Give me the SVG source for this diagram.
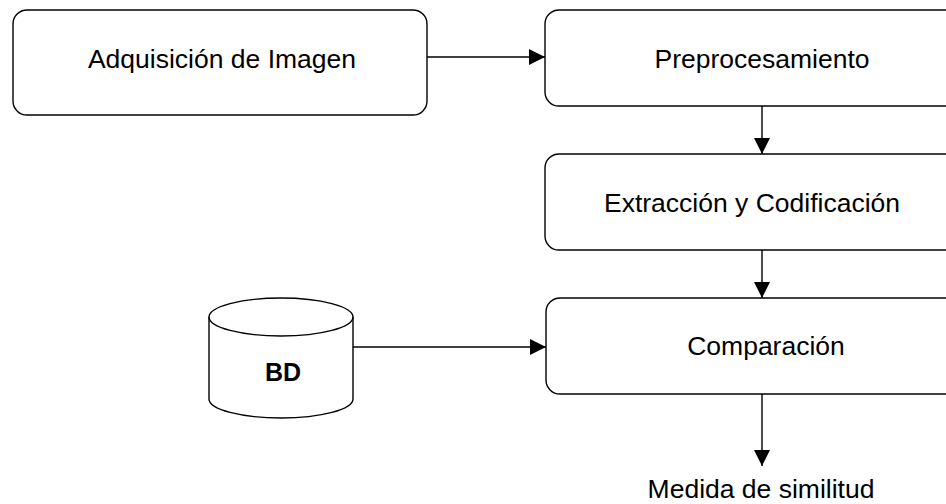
<svg xmlns="http://www.w3.org/2000/svg" width="946" height="504" viewBox="0 0 946 504">
<style>
.box{fill:#fff;stroke:#000;stroke-width:1.4}
.t{font-family:"Liberation Sans",Arial,sans-serif;font-size:26.5px;fill:#000;text-anchor:middle}
.b{font-weight:bold;font-size:25px}
.c{fill:none;stroke:#000;stroke-width:1.4}
</style>
<defs>
<marker id="ah" markerUnits="userSpaceOnUse" markerWidth="18" markerHeight="16" refX="16" refY="8" orient="auto">
<path d="M0,0 L16,8 L0,16 Z" fill="#000"/>
</marker>
</defs>
<rect width="946" height="504" fill="#fff"/>
<g id="connectors">
<line class="c" x1="427" y1="57" x2="545" y2="57" marker-end="url(#ah)"/>
<line class="c" x1="762" y1="106" x2="762" y2="154" marker-end="url(#ah)"/>
<line class="c" x1="762" y1="250" x2="762" y2="298" marker-end="url(#ah)"/>
<line class="c" x1="353" y1="347" x2="546" y2="347" marker-end="url(#ah)"/>
<line class="c" x1="762" y1="394" x2="762" y2="466" marker-end="url(#ah)"/>
</g>
<g id="adquisicion">
<rect class="box" x="13" y="10" width="414" height="105" rx="14"/>
<text class="t" x="222" y="68">Adquisición de Imagen</text>
</g>
<g id="preprocesamiento">
<rect class="box" x="545" y="10" width="434" height="96" rx="14"/>
<text class="t" x="762" y="68">Preprocesamiento</text>
</g>
<g id="extraccion">
<rect class="box" x="545" y="154" width="434" height="96" rx="14"/>
<text class="t" x="752" y="212">Extracción y Codificación</text>
</g>
<g id="comparacion">
<rect class="box" x="546" y="298" width="434" height="96" rx="14"/>
<text class="t" x="766" y="355">Comparación</text>
</g>
<g id="bd">
<path class="box" d="M209,317 L209,399 A72,19 0 0 0 353,399 L353,317 A72,19 0 0 0 209,317 Z"/>
<path class="c" d="M209,317 A72,19 0 0 0 353,317"/>
<text class="t b" x="283" y="381">BD</text>
</g>
<g id="medida">
<text class="t" x="761" y="498">Medida de similitud</text>
</g>
</svg>
